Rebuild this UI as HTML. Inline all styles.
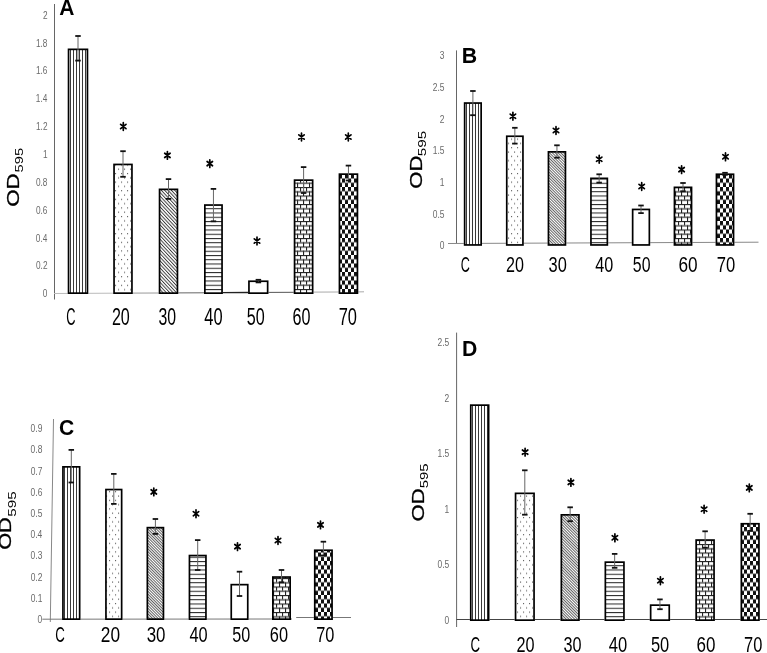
<!DOCTYPE html>
<html><head><meta charset="utf-8"><style>
html,body{margin:0;padding:0;background:#fff;}
svg{display:block;filter:grayscale(1);}
text{font-family:"Liberation Sans", sans-serif;}
</style></head><body>
<svg width="767" height="653" viewBox="0 0 767 653">
<rect width="767" height="653" fill="#fff"/>
<defs>
<pattern id="vert" patternUnits="userSpaceOnUse" width="3" height="10"><rect x="1" y="0" width="1" height="10" fill="#3a3a3a"/></pattern>
<pattern id="dots" patternUnits="userSpaceOnUse" width="6" height="8.6"><rect x="1" y="1" width="1.1" height="1.1" fill="#555"/><rect x="4" y="5.3" width="1.1" height="1.1" fill="#555"/></pattern>
<pattern id="diagA" patternUnits="userSpaceOnUse" width="2.45" height="10" patternTransform="rotate(-43)"><rect x="0" y="0" width="0.95" height="10" fill="#3a3a3a"/></pattern>
<pattern id="diagB" patternUnits="userSpaceOnUse" width="2.0" height="10" patternTransform="rotate(-45)"><rect x="0" y="0" width="0.75" height="10" fill="#333"/></pattern>
<pattern id="diagC" patternUnits="userSpaceOnUse" width="2.0" height="10" patternTransform="rotate(-45)"><rect x="0" y="0" width="0.8" height="10" fill="#3a3a3a"/></pattern>
<pattern id="diagD" patternUnits="userSpaceOnUse" width="2.0" height="10" patternTransform="rotate(-45)"><rect x="0" y="0" width="0.8" height="10" fill="#3a3a3a"/></pattern>
<pattern id="horiz" patternUnits="userSpaceOnUse" width="10" height="4.25"><rect x="0" y="0" width="10" height="1" fill="#222"/></pattern>
<pattern id="brick" patternUnits="userSpaceOnUse" width="6" height="8.5"><rect x="0" y="0" width="6" height="1.1" fill="#222"/><rect x="0" y="4.25" width="6" height="1.1" fill="#222"/><rect x="0" y="0" width="1.1" height="4.25" fill="#222"/><rect x="3" y="4.25" width="1.1" height="4.25" fill="#222"/></pattern>
<pattern id="check" patternUnits="userSpaceOnUse" width="6" height="8.5"><rect x="0" y="0" width="3" height="4.25" fill="#111"/><rect x="3" y="4.25" width="3" height="4.25" fill="#111"/></pattern>
</defs>
<line x1="54.50" y1="4.00" x2="54.50" y2="299.50" stroke="#666" stroke-width="1"/>
<line x1="54.00" y1="293.50" x2="113.00" y2="293.20" stroke="#bbb" stroke-width="1.00"/>
<line x1="132.00" y1="293.10" x2="159.00" y2="293.00" stroke="#999" stroke-width="1.00"/>
<line x1="178.00" y1="292.90" x2="205.00" y2="292.80" stroke="#666" stroke-width="1.00"/>
<line x1="222.00" y1="292.70" x2="249.00" y2="292.50" stroke="#222" stroke-width="1.30"/>
<line x1="268.00" y1="292.40" x2="294.00" y2="292.30" stroke="#555" stroke-width="1.00"/>
<line x1="313.00" y1="292.10" x2="339.00" y2="292.00" stroke="#aaa" stroke-width="1.00"/>
<line x1="358.00" y1="291.90" x2="364.00" y2="291.80" stroke="#aaa" stroke-width="1.00"/>
<text transform="translate(42.83,297.29) scale(0.7500,1)" font-size="11.02"  fill="#6a6a6a" >0</text>
<text transform="translate(36.03,269.44) scale(0.7500,1)" font-size="11.02"  fill="#6a6a6a" >0.2</text>
<text transform="translate(35.85,241.59) scale(0.7500,1)" font-size="11.02"  fill="#6a6a6a" >0.4</text>
<text transform="translate(35.98,213.74) scale(0.7500,1)" font-size="11.02"  fill="#6a6a6a" >0.6</text>
<text transform="translate(35.97,185.89) scale(0.7500,1)" font-size="11.02"  fill="#6a6a6a" >0.8</text>
<text transform="translate(42.91,158.15) scale(0.7288,1)" font-size="11.34"  fill="#6a6a6a" >1</text>
<text transform="translate(36.03,130.30) scale(0.7394,1)" font-size="11.17"  fill="#6a6a6a" >1.2</text>
<text transform="translate(35.85,102.45) scale(0.7288,1)" font-size="11.34"  fill="#6a6a6a" >1.4</text>
<text transform="translate(35.98,74.49) scale(0.7500,1)" font-size="11.02"  fill="#6a6a6a" >1.6</text>
<text transform="translate(35.97,46.64) scale(0.7500,1)" font-size="11.02"  fill="#6a6a6a" >1.8</text>
<text transform="translate(42.92,18.90) scale(0.7394,1)" font-size="11.17"  fill="#6a6a6a" >2</text>
<rect x="67.70" y="48.50" width="20.60" height="245.50" fill="#fff"/><rect x="68.55" y="49.35" width="18.90" height="243.80" fill="url(#vert)" stroke="#000" stroke-width="1.70"/>
<rect x="113.20" y="163.60" width="19.60" height="130.40" fill="#fff"/><rect x="114.05" y="164.45" width="17.90" height="128.70" fill="url(#dots)" stroke="#000" stroke-width="1.70"/>
<rect x="158.70" y="188.50" width="19.60" height="105.50" fill="#fff"/><rect x="159.55" y="189.35" width="17.90" height="103.80" fill="url(#diagA)" stroke="#000" stroke-width="1.70"/>
<rect x="204.00" y="204.20" width="18.90" height="89.80" fill="#fff"/><rect x="204.85" y="205.05" width="17.20" height="88.10" fill="url(#horiz)" stroke="#000" stroke-width="1.70"/>
<rect x="248.10" y="280.40" width="20.40" height="13.60" fill="#fff"/><rect x="248.95" y="281.25" width="18.70" height="11.90" fill="#fff" stroke="#000" stroke-width="1.70"/>
<rect x="293.70" y="179.30" width="19.80" height="114.70" fill="#fff"/><rect x="294.55" y="180.15" width="18.10" height="113.00" fill="url(#brick)" stroke="#000" stroke-width="1.70"/>
<rect x="338.60" y="173.30" width="19.70" height="120.70" fill="#fff"/><rect x="339.45" y="174.15" width="18.00" height="119.00" fill="url(#check)" stroke="#000" stroke-width="1.70"/>
<line x1="78.00" y1="36.00" x2="78.00" y2="60.60" stroke="#666" stroke-width="1"/><line x1="75.25" y1="36.00" x2="80.75" y2="36.00" stroke="#111" stroke-width="1.8"/><line x1="75.25" y1="60.60" x2="80.75" y2="60.60" stroke="#111" stroke-width="1.8"/>
<line x1="123.00" y1="151.20" x2="123.00" y2="176.80" stroke="#666" stroke-width="1"/><line x1="120.25" y1="151.20" x2="125.75" y2="151.20" stroke="#111" stroke-width="1.8"/><line x1="120.25" y1="176.80" x2="125.75" y2="176.80" stroke="#111" stroke-width="1.8"/>
<line x1="168.50" y1="179.10" x2="168.50" y2="198.90" stroke="#666" stroke-width="1"/><line x1="165.75" y1="179.10" x2="171.25" y2="179.10" stroke="#111" stroke-width="1.8"/><line x1="165.75" y1="198.90" x2="171.25" y2="198.90" stroke="#111" stroke-width="1.8"/>
<line x1="213.45" y1="188.90" x2="213.45" y2="221.30" stroke="#666" stroke-width="1"/><line x1="210.70" y1="188.90" x2="216.20" y2="188.90" stroke="#111" stroke-width="1.8"/><line x1="210.70" y1="221.30" x2="216.20" y2="221.30" stroke="#111" stroke-width="1.8"/>
<line x1="258.40" y1="279.80" x2="258.40" y2="282.40" stroke="#666" stroke-width="1"/><line x1="255.65" y1="279.80" x2="261.15" y2="279.80" stroke="#111" stroke-width="1.8"/><line x1="255.65" y1="282.40" x2="261.15" y2="282.40" stroke="#111" stroke-width="1.8"/>
<line x1="303.60" y1="167.10" x2="303.60" y2="193.00" stroke="#666" stroke-width="1"/><line x1="300.85" y1="167.10" x2="306.35" y2="167.10" stroke="#111" stroke-width="1.8"/><line x1="300.85" y1="193.00" x2="306.35" y2="193.00" stroke="#111" stroke-width="1.8"/>
<line x1="348.45" y1="165.60" x2="348.45" y2="180.50" stroke="#666" stroke-width="1"/><line x1="345.70" y1="165.60" x2="351.20" y2="165.60" stroke="#111" stroke-width="1.8"/><line x1="345.70" y1="180.50" x2="351.20" y2="180.50" stroke="#111" stroke-width="1.8"/>
<path d="M123.30 122.65V130.35M120.60 124.36L126.00 128.64M126.00 124.36L120.60 128.64" stroke="#000" stroke-width="1.70" stroke-linecap="round" fill="none"/>
<path d="M167.40 151.55V159.25M164.70 153.26L170.10 157.54M170.10 153.26L164.70 157.54" stroke="#000" stroke-width="1.70" stroke-linecap="round" fill="none"/>
<path d="M209.80 159.75V167.45M207.10 161.46L212.50 165.74M212.50 161.46L207.10 165.74" stroke="#000" stroke-width="1.70" stroke-linecap="round" fill="none"/>
<path d="M257.00 237.15V244.85M254.30 238.86L259.70 243.14M259.70 238.86L254.30 243.14" stroke="#000" stroke-width="1.70" stroke-linecap="round" fill="none"/>
<path d="M301.50 133.15V140.85M298.80 134.86L304.20 139.14M304.20 134.86L298.80 139.14" stroke="#000" stroke-width="1.70" stroke-linecap="round" fill="none"/>
<path d="M348.30 133.15V140.85M345.60 134.86L351.00 139.14M351.00 134.86L345.60 139.14" stroke="#000" stroke-width="1.70" stroke-linecap="round" fill="none"/>
<text transform="translate(66.25,325.17) scale(0.5491,1)" font-size="23.31"  fill="#000" >C</text>
<text transform="translate(111.89,325.17) scale(0.6921,1)" font-size="23.31"  fill="#000" >20</text>
<text transform="translate(158.40,325.17) scale(0.6799,1)" font-size="23.31"  fill="#000" >30</text>
<text transform="translate(204.32,325.17) scale(0.7070,1)" font-size="23.31"  fill="#000" >40</text>
<text transform="translate(246.65,325.17) scale(0.6937,1)" font-size="23.31"  fill="#000" >50</text>
<text transform="translate(292.48,325.17) scale(0.6928,1)" font-size="23.31"  fill="#000" >60</text>
<text transform="translate(338.66,325.17) scale(0.7054,1)" font-size="23.31"  fill="#000" >70</text>
<text transform="translate(59.37,14.90) scale(0.9902,1)" font-size="21.22" font-weight="bold" fill="#000" >A</text>
<text transform="translate(18.73,206.85) rotate(-90) scale(1.3524,1)" font-size="16.53"  fill="#000" stroke="#000" stroke-width="0.3">OD</text>
<text transform="translate(22.59,172.49) rotate(-90) scale(1.3566,1)" font-size="10.88"  fill="#000" >595</text>
<line x1="456.50" y1="50.40" x2="456.50" y2="243.50" stroke="#666" stroke-width="1"/>
<line x1="448.00" y1="243.50" x2="758.50" y2="242.20" stroke="#888" stroke-width="1.00"/>
<text transform="translate(439.72,249.39) scale(0.7500,1)" font-size="11.30"  fill="#6a6a6a" >0</text>
<text transform="translate(432.68,217.69) scale(0.7500,1)" font-size="11.30"  fill="#6a6a6a" >0.5</text>
<text transform="translate(439.80,186.10) scale(0.7288,1)" font-size="11.63"  fill="#6a6a6a" >1</text>
<text transform="translate(432.68,154.29) scale(0.7394,1)" font-size="11.46"  fill="#6a6a6a" >1.5</text>
<text transform="translate(439.81,122.70) scale(0.7394,1)" font-size="11.46"  fill="#6a6a6a" >2</text>
<text transform="translate(432.68,90.89) scale(0.7500,1)" font-size="11.30"  fill="#6a6a6a" >2.5</text>
<text transform="translate(439.76,59.19) scale(0.7500,1)" font-size="11.30"  fill="#6a6a6a" >3</text>
<rect x="463.80" y="102.20" width="18.20" height="143.60" fill="#fff"/><rect x="464.65" y="103.05" width="16.50" height="141.90" fill="url(#vert)" stroke="#000" stroke-width="1.70"/>
<rect x="505.90" y="135.40" width="17.90" height="110.40" fill="#fff"/><rect x="506.75" y="136.25" width="16.20" height="108.70" fill="url(#dots)" stroke="#000" stroke-width="1.70"/>
<rect x="547.60" y="151.00" width="18.70" height="94.80" fill="#fff"/><rect x="548.45" y="151.85" width="17.00" height="93.10" fill="url(#diagB)" stroke="#000" stroke-width="1.70"/>
<rect x="590.10" y="177.50" width="18.10" height="68.30" fill="#fff"/><rect x="590.95" y="178.35" width="16.40" height="66.60" fill="url(#horiz)" stroke="#000" stroke-width="1.70"/>
<rect x="631.80" y="208.60" width="18.40" height="37.20" fill="#fff"/><rect x="632.65" y="209.45" width="16.70" height="35.50" fill="#fff" stroke="#000" stroke-width="1.70"/>
<rect x="673.60" y="186.50" width="18.80" height="59.30" fill="#fff"/><rect x="674.45" y="187.35" width="17.10" height="57.60" fill="url(#brick)" stroke="#000" stroke-width="1.70"/>
<rect x="715.60" y="173.40" width="18.80" height="72.40" fill="#fff"/><rect x="716.45" y="174.25" width="17.10" height="70.70" fill="url(#check)" stroke="#000" stroke-width="1.70"/>
<line x1="472.90" y1="91.00" x2="472.90" y2="115.20" stroke="#666" stroke-width="1"/><line x1="470.15" y1="91.00" x2="475.65" y2="91.00" stroke="#111" stroke-width="1.8"/><line x1="470.15" y1="115.20" x2="475.65" y2="115.20" stroke="#111" stroke-width="1.8"/>
<line x1="514.85" y1="127.80" x2="514.85" y2="143.60" stroke="#666" stroke-width="1"/><line x1="512.10" y1="127.80" x2="517.60" y2="127.80" stroke="#111" stroke-width="1.8"/><line x1="512.10" y1="143.60" x2="517.60" y2="143.60" stroke="#111" stroke-width="1.8"/>
<line x1="556.95" y1="145.30" x2="556.95" y2="157.70" stroke="#666" stroke-width="1"/><line x1="554.20" y1="145.30" x2="559.70" y2="145.30" stroke="#111" stroke-width="1.8"/><line x1="554.20" y1="157.70" x2="559.70" y2="157.70" stroke="#111" stroke-width="1.8"/>
<line x1="599.15" y1="174.30" x2="599.15" y2="182.60" stroke="#666" stroke-width="1"/><line x1="596.40" y1="174.30" x2="601.90" y2="174.30" stroke="#111" stroke-width="1.8"/><line x1="596.40" y1="182.60" x2="601.90" y2="182.60" stroke="#111" stroke-width="1.8"/>
<line x1="641.00" y1="205.50" x2="641.00" y2="213.10" stroke="#666" stroke-width="1"/><line x1="638.25" y1="205.50" x2="643.75" y2="205.50" stroke="#111" stroke-width="1.8"/><line x1="638.25" y1="213.10" x2="643.75" y2="213.10" stroke="#111" stroke-width="1.8"/>
<line x1="683.00" y1="183.00" x2="683.00" y2="191.30" stroke="#666" stroke-width="1"/><line x1="680.25" y1="183.00" x2="685.75" y2="183.00" stroke="#111" stroke-width="1.8"/><line x1="680.25" y1="191.30" x2="685.75" y2="191.30" stroke="#111" stroke-width="1.8"/>
<line x1="725.00" y1="172.80" x2="725.00" y2="174.80" stroke="#666" stroke-width="1"/><line x1="722.25" y1="172.80" x2="727.75" y2="172.80" stroke="#111" stroke-width="1.8"/><line x1="722.25" y1="174.80" x2="727.75" y2="174.80" stroke="#111" stroke-width="1.8"/>
<path d="M512.90 112.35V120.05M510.20 114.06L515.60 118.34M515.60 114.06L510.20 118.34" stroke="#000" stroke-width="1.70" stroke-linecap="round" fill="none"/>
<path d="M556.00 126.65V134.35M553.30 128.36L558.70 132.64M558.70 128.36L553.30 132.64" stroke="#000" stroke-width="1.70" stroke-linecap="round" fill="none"/>
<path d="M599.20 155.35V163.05M596.50 157.06L601.90 161.34M601.90 157.06L596.50 161.34" stroke="#000" stroke-width="1.70" stroke-linecap="round" fill="none"/>
<path d="M641.70 182.65V190.35M639.00 184.36L644.40 188.64M644.40 184.36L639.00 188.64" stroke="#000" stroke-width="1.70" stroke-linecap="round" fill="none"/>
<path d="M681.60 165.75V173.45M678.90 167.46L684.30 171.74M684.30 167.46L678.90 171.74" stroke="#000" stroke-width="1.70" stroke-linecap="round" fill="none"/>
<path d="M725.50 152.95V160.65M722.80 154.66L728.20 158.94M728.20 154.66L722.80 158.94" stroke="#000" stroke-width="1.70" stroke-linecap="round" fill="none"/>
<text transform="translate(460.66,271.89) scale(0.5887,1)" font-size="21.47"  fill="#000" >C</text>
<text transform="translate(506.09,271.89) scale(0.7513,1)" font-size="21.47"  fill="#000" >20</text>
<text transform="translate(548.58,271.89) scale(0.7651,1)" font-size="21.47"  fill="#000" >30</text>
<text transform="translate(595.13,271.89) scale(0.7541,1)" font-size="21.47"  fill="#000" >40</text>
<text transform="translate(632.86,271.89) scale(0.7395,1)" font-size="21.47"  fill="#000" >50</text>
<text transform="translate(678.42,271.89) scale(0.8021,1)" font-size="21.47"  fill="#000" >60</text>
<text transform="translate(716.75,271.89) scale(0.7748,1)" font-size="21.47"  fill="#000" >70</text>
<text transform="translate(461.67,62.90) scale(0.9710,1)" font-size="21.95" font-weight="bold" fill="#000" >B</text>
<text transform="translate(422.33,188.74) rotate(-90) scale(1.3281,1)" font-size="16.67"  fill="#000" stroke="#000" stroke-width="0.3">OD</text>
<text transform="translate(425.60,156.21) rotate(-90) scale(1.4799,1)" font-size="10.31"  fill="#000" >595</text>
<line x1="53.50" y1="419.00" x2="50.30" y2="622.00" stroke="#888" stroke-width="1"/>
<line x1="42.30" y1="619.20" x2="292.00" y2="619.00" stroke="#777" stroke-width="1.00"/>
<line x1="296.20" y1="617.50" x2="351.00" y2="617.50" stroke="#777" stroke-width="1.00"/>
<text transform="translate(37.62,622.89) scale(0.7500,1)" font-size="11.30"  fill="#6a6a6a" >0</text>
<text transform="translate(30.64,601.70) scale(0.7500,1)" font-size="11.30"  fill="#6a6a6a" >0.1</text>
<text transform="translate(30.64,580.51) scale(0.7500,1)" font-size="11.30"  fill="#6a6a6a" >0.2</text>
<text transform="translate(30.59,559.32) scale(0.7500,1)" font-size="11.30"  fill="#6a6a6a" >0.3</text>
<text transform="translate(30.47,538.13) scale(0.7500,1)" font-size="11.30"  fill="#6a6a6a" >0.4</text>
<text transform="translate(30.58,516.94) scale(0.7500,1)" font-size="11.30"  fill="#6a6a6a" >0.5</text>
<text transform="translate(30.59,495.75) scale(0.7500,1)" font-size="11.30"  fill="#6a6a6a" >0.6</text>
<text transform="translate(30.64,474.56) scale(0.7500,1)" font-size="11.30"  fill="#6a6a6a" >0.7</text>
<text transform="translate(30.58,453.38) scale(0.7500,1)" font-size="11.30"  fill="#6a6a6a" >0.8</text>
<text transform="translate(30.62,432.19) scale(0.7500,1)" font-size="11.30"  fill="#6a6a6a" >0.9</text>
<rect x="62.10" y="466.00" width="18.40" height="154.00" fill="#fff"/><rect x="62.95" y="466.85" width="16.70" height="152.30" fill="url(#vert)" stroke="#000" stroke-width="1.70"/>
<rect x="105.10" y="488.70" width="17.40" height="131.30" fill="#fff"/><rect x="105.95" y="489.55" width="15.70" height="129.60" fill="url(#dots)" stroke="#000" stroke-width="1.70"/>
<rect x="146.50" y="526.80" width="17.80" height="93.20" fill="#fff"/><rect x="147.35" y="527.65" width="16.10" height="91.50" fill="url(#diagC)" stroke="#000" stroke-width="1.70"/>
<rect x="188.60" y="554.70" width="18.20" height="65.30" fill="#fff"/><rect x="189.45" y="555.55" width="16.50" height="63.60" fill="url(#horiz)" stroke="#000" stroke-width="1.70"/>
<rect x="230.40" y="583.80" width="18.20" height="36.20" fill="#fff"/><rect x="231.25" y="584.65" width="16.50" height="34.50" fill="#fff" stroke="#000" stroke-width="1.70"/>
<rect x="272.00" y="576.20" width="19.00" height="43.80" fill="#fff"/><rect x="272.85" y="577.05" width="17.30" height="42.10" fill="url(#brick)" stroke="#000" stroke-width="1.70"/>
<rect x="313.90" y="549.40" width="19.00" height="70.60" fill="#fff"/><rect x="314.75" y="550.25" width="17.30" height="68.90" fill="url(#check)" stroke="#000" stroke-width="1.70"/>
<line x1="71.30" y1="449.90" x2="71.30" y2="482.50" stroke="#666" stroke-width="1"/><line x1="68.55" y1="449.90" x2="74.05" y2="449.90" stroke="#111" stroke-width="1.8"/><line x1="68.55" y1="482.50" x2="74.05" y2="482.50" stroke="#111" stroke-width="1.8"/>
<line x1="113.80" y1="473.90" x2="113.80" y2="503.90" stroke="#666" stroke-width="1"/><line x1="111.05" y1="473.90" x2="116.55" y2="473.90" stroke="#111" stroke-width="1.8"/><line x1="111.05" y1="503.90" x2="116.55" y2="503.90" stroke="#111" stroke-width="1.8"/>
<line x1="155.40" y1="519.00" x2="155.40" y2="533.90" stroke="#666" stroke-width="1"/><line x1="152.65" y1="519.00" x2="158.15" y2="519.00" stroke="#111" stroke-width="1.8"/><line x1="152.65" y1="533.90" x2="158.15" y2="533.90" stroke="#111" stroke-width="1.8"/>
<line x1="197.70" y1="540.10" x2="197.70" y2="570.00" stroke="#666" stroke-width="1"/><line x1="194.95" y1="540.10" x2="200.45" y2="540.10" stroke="#111" stroke-width="1.8"/><line x1="194.95" y1="570.00" x2="200.45" y2="570.00" stroke="#111" stroke-width="1.8"/>
<line x1="239.50" y1="571.70" x2="239.50" y2="596.00" stroke="#666" stroke-width="1"/><line x1="236.75" y1="571.70" x2="242.25" y2="571.70" stroke="#111" stroke-width="1.8"/><line x1="236.75" y1="596.00" x2="242.25" y2="596.00" stroke="#111" stroke-width="1.8"/>
<line x1="281.50" y1="570.00" x2="281.50" y2="582.30" stroke="#666" stroke-width="1"/><line x1="278.75" y1="570.00" x2="284.25" y2="570.00" stroke="#111" stroke-width="1.8"/><line x1="278.75" y1="582.30" x2="284.25" y2="582.30" stroke="#111" stroke-width="1.8"/>
<line x1="323.40" y1="541.70" x2="323.40" y2="555.50" stroke="#666" stroke-width="1"/><line x1="320.65" y1="541.70" x2="326.15" y2="541.70" stroke="#111" stroke-width="1.8"/><line x1="320.65" y1="555.50" x2="326.15" y2="555.50" stroke="#111" stroke-width="1.8"/>
<path d="M153.80 488.05V495.75M151.10 489.76L156.50 494.04M156.50 489.76L151.10 494.04" stroke="#000" stroke-width="1.70" stroke-linecap="round" fill="none"/>
<path d="M196.00 509.85V517.55M193.30 511.56L198.70 515.84M198.70 511.56L193.30 515.84" stroke="#000" stroke-width="1.70" stroke-linecap="round" fill="none"/>
<path d="M237.50 542.75V550.45M234.80 544.46L240.20 548.74M240.20 544.46L234.80 548.74" stroke="#000" stroke-width="1.70" stroke-linecap="round" fill="none"/>
<path d="M278.00 536.65V544.35M275.30 538.36L280.70 542.64M280.70 538.36L275.30 542.64" stroke="#000" stroke-width="1.70" stroke-linecap="round" fill="none"/>
<path d="M320.50 521.05V528.75M317.80 522.76L323.20 527.04M323.20 522.76L317.80 527.04" stroke="#000" stroke-width="1.70" stroke-linecap="round" fill="none"/>
<text transform="translate(55.32,641.78) scale(0.5946,1)" font-size="22.32"  fill="#000" >C</text>
<text transform="translate(100.83,641.78) scale(0.7753,1)" font-size="22.32"  fill="#000" >20</text>
<text transform="translate(146.66,641.78) scale(0.7577,1)" font-size="22.32"  fill="#000" >30</text>
<text transform="translate(189.52,641.78) scale(0.7340,1)" font-size="22.32"  fill="#000" >40</text>
<text transform="translate(232.15,641.78) scale(0.7244,1)" font-size="22.32"  fill="#000" >50</text>
<text transform="translate(269.87,641.78) scale(0.7322,1)" font-size="22.32"  fill="#000" >60</text>
<text transform="translate(316.17,641.78) scale(0.7322,1)" font-size="22.32"  fill="#000" >70</text>
<text transform="translate(59.03,435.37) scale(0.9337,1)" font-size="22.60" font-weight="bold" fill="#000" >C</text>
<text transform="translate(11.43,549.82) rotate(-90) scale(1.3179,1)" font-size="16.53"  fill="#000" stroke="#000" stroke-width="0.3">OD</text>
<text transform="translate(16.19,516.71) rotate(-90) scale(1.3972,1)" font-size="10.88"  fill="#000" >595</text>
<line x1="456.60" y1="332.60" x2="456.60" y2="627.00" stroke="#666" stroke-width="1"/>
<line x1="456.50" y1="619.50" x2="767.00" y2="619.50" stroke="#444" stroke-width="1.00"/>
<text transform="translate(444.52,623.69) scale(0.7500,1)" font-size="11.30"  fill="#6a6a6a" >0</text>
<text transform="translate(437.48,568.13) scale(0.7500,1)" font-size="11.30"  fill="#6a6a6a" >0.5</text>
<text transform="translate(444.60,512.68) scale(0.7288,1)" font-size="11.63"  fill="#6a6a6a" >1</text>
<text transform="translate(437.48,457.01) scale(0.7394,1)" font-size="11.46"  fill="#6a6a6a" >1.5</text>
<text transform="translate(444.61,401.56) scale(0.7394,1)" font-size="11.46"  fill="#6a6a6a" >2</text>
<text transform="translate(437.48,345.89) scale(0.7500,1)" font-size="11.30"  fill="#6a6a6a" >2.5</text>
<rect x="469.90" y="404.30" width="19.60" height="216.70" fill="#fff"/><rect x="470.75" y="405.15" width="17.90" height="215.00" fill="url(#vert)" stroke="#000" stroke-width="1.70"/>
<rect x="514.70" y="492.50" width="20.20" height="128.50" fill="#fff"/><rect x="515.55" y="493.35" width="18.50" height="126.80" fill="url(#dots)" stroke="#000" stroke-width="1.70"/>
<rect x="560.50" y="514.00" width="19.30" height="107.00" fill="#fff"/><rect x="561.35" y="514.85" width="17.60" height="105.30" fill="url(#diagD)" stroke="#000" stroke-width="1.70"/>
<rect x="604.50" y="561.30" width="20.30" height="59.70" fill="#fff"/><rect x="605.35" y="562.15" width="18.60" height="58.00" fill="url(#horiz)" stroke="#000" stroke-width="1.70"/>
<rect x="649.80" y="604.30" width="20.30" height="16.70" fill="#fff"/><rect x="650.65" y="605.15" width="18.60" height="15.00" fill="#fff" stroke="#000" stroke-width="1.70"/>
<rect x="695.30" y="539.20" width="19.60" height="81.80" fill="#fff"/><rect x="696.15" y="540.05" width="17.90" height="80.10" fill="url(#brick)" stroke="#000" stroke-width="1.70"/>
<rect x="740.50" y="522.90" width="19.30" height="98.10" fill="#fff"/><rect x="741.35" y="523.75" width="17.60" height="96.40" fill="url(#check)" stroke="#000" stroke-width="1.70"/>
<line x1="524.80" y1="470.30" x2="524.80" y2="514.70" stroke="#666" stroke-width="1"/><line x1="522.05" y1="470.30" x2="527.55" y2="470.30" stroke="#111" stroke-width="1.8"/><line x1="522.05" y1="514.70" x2="527.55" y2="514.70" stroke="#111" stroke-width="1.8"/>
<line x1="570.15" y1="507.30" x2="570.15" y2="521.20" stroke="#666" stroke-width="1"/><line x1="567.40" y1="507.30" x2="572.90" y2="507.30" stroke="#111" stroke-width="1.8"/><line x1="567.40" y1="521.20" x2="572.90" y2="521.20" stroke="#111" stroke-width="1.8"/>
<line x1="614.65" y1="553.90" x2="614.65" y2="567.80" stroke="#666" stroke-width="1"/><line x1="611.90" y1="553.90" x2="617.40" y2="553.90" stroke="#111" stroke-width="1.8"/><line x1="611.90" y1="567.80" x2="617.40" y2="567.80" stroke="#111" stroke-width="1.8"/>
<line x1="659.95" y1="599.40" x2="659.95" y2="609.20" stroke="#666" stroke-width="1"/><line x1="657.20" y1="599.40" x2="662.70" y2="599.40" stroke="#111" stroke-width="1.8"/><line x1="657.20" y1="609.20" x2="662.70" y2="609.20" stroke="#111" stroke-width="1.8"/>
<line x1="705.10" y1="531.30" x2="705.10" y2="547.70" stroke="#666" stroke-width="1"/><line x1="702.35" y1="531.30" x2="707.85" y2="531.30" stroke="#111" stroke-width="1.8"/><line x1="702.35" y1="547.70" x2="707.85" y2="547.70" stroke="#111" stroke-width="1.8"/>
<line x1="750.15" y1="513.80" x2="750.15" y2="530.90" stroke="#666" stroke-width="1"/><line x1="747.40" y1="513.80" x2="752.90" y2="513.80" stroke="#111" stroke-width="1.8"/><line x1="747.40" y1="530.90" x2="752.90" y2="530.90" stroke="#111" stroke-width="1.8"/>
<path d="M525.10 448.25V455.95M522.40 449.96L527.80 454.24M527.80 449.96L522.40 454.24" stroke="#000" stroke-width="1.70" stroke-linecap="round" fill="none"/>
<path d="M570.90 478.55V486.25M568.20 480.26L573.60 484.54M573.60 480.26L568.20 484.54" stroke="#000" stroke-width="1.70" stroke-linecap="round" fill="none"/>
<path d="M614.90 533.95V541.65M612.20 535.66L617.60 539.94M617.60 535.66L612.20 539.94" stroke="#000" stroke-width="1.70" stroke-linecap="round" fill="none"/>
<path d="M660.40 576.85V584.55M657.70 578.56L663.10 582.84M663.10 578.56L657.70 582.84" stroke="#000" stroke-width="1.70" stroke-linecap="round" fill="none"/>
<path d="M704.10 505.35V513.05M701.40 507.06L706.80 511.34M706.80 507.06L701.40 511.34" stroke="#000" stroke-width="1.70" stroke-linecap="round" fill="none"/>
<path d="M749.30 484.05V491.75M746.60 485.76L752.00 490.04M752.00 485.76L746.60 490.04" stroke="#000" stroke-width="1.70" stroke-linecap="round" fill="none"/>
<text transform="translate(470.62,651.67) scale(0.5800,1)" font-size="22.88"  fill="#000" >C</text>
<text transform="translate(516.59,651.67) scale(0.7092,1)" font-size="22.88"  fill="#000" >20</text>
<text transform="translate(563.38,651.67) scale(0.7094,1)" font-size="22.88"  fill="#000" >30</text>
<text transform="translate(608.82,651.67) scale(0.7242,1)" font-size="22.88"  fill="#000" >40</text>
<text transform="translate(650.94,651.67) scale(0.7192,1)" font-size="22.88"  fill="#000" >50</text>
<text transform="translate(696.53,651.67) scale(0.7441,1)" font-size="22.88"  fill="#000" >60</text>
<text transform="translate(744.06,651.67) scale(0.7184,1)" font-size="22.88"  fill="#000" >70</text>
<text transform="translate(461.88,356.30) scale(0.9994,1)" font-size="21.22" font-weight="bold" fill="#000" >D</text>
<text transform="translate(424.33,521.44) rotate(-90) scale(1.2846,1)" font-size="17.23"  fill="#000" stroke="#000" stroke-width="0.3">OD</text>
<text transform="translate(427.59,488.30) rotate(-90) scale(1.4047,1)" font-size="10.59"  fill="#000" >595</text>
</svg></body></html>
